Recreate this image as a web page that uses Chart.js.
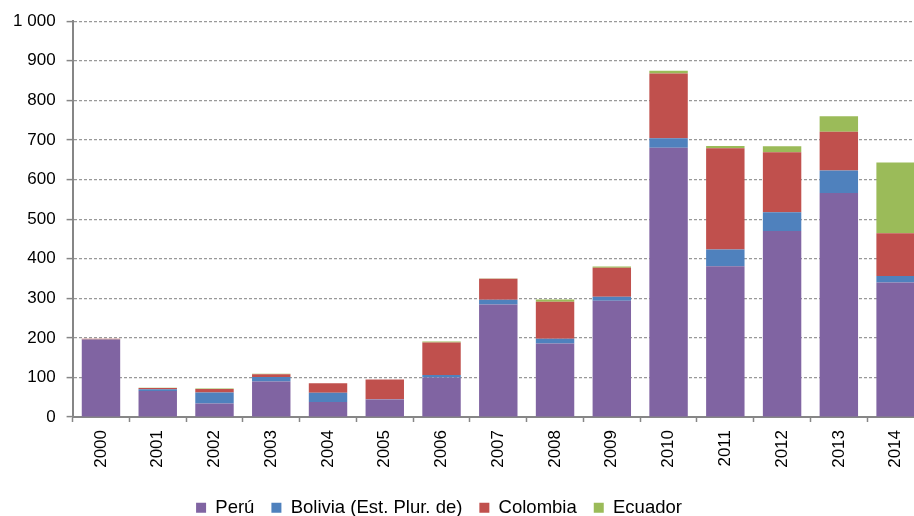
<!DOCTYPE html>
<html>
<head>
<meta charset="utf-8">
<script src="https://cdn.jsdelivr.net/npm/chart.js@4"></script>
<style>
  html, body { margin: 0; padding: 0; overflow: hidden; background: #fff; }
  #wrap { width: 924px; height: 516px; }
</style>
</head>
<body>
<div id="wrap"><canvas id="chart" width="924" height="516"></canvas></div>
<script>
const years = ["2000", "2001", "2002", "2003", "2004", "2005", "2006", "2007",
  "2008", "2009", "2010", "2011", "2012", "2013", "2014"];
const peru = [195, 66, 34, 90, 38, 44, 100, 284, 186, 294, 680, 381, 470, 566, 340];
const bolivia = [1, 4, 28, 11, 23, 1, 6, 12, 12, 10, 24, 42, 47, 57, 16];
const colombia = [2, 3, 9, 7, 24, 50, 82, 53, 93, 73, 164, 256, 152, 98, 108];
const ecuador = [0, 1, 1, 1, 0, 0, 3, 1, 6, 3, 7, 6, 15, 39, 179];

const axisGray = "#868686";
const font = "'Liberation Sans', Arial, sans-serif";

// nudge the legend to where the original sits
const legendShift = {
  id: "legendShift",
  afterLayout(chart) {
    const lg = chart.legend;
    lg.left -= 23;
    lg.right -= 23;
    lg.top += 11;
    lg.bottom += 11;
  }
};

const ctx = document.getElementById("chart").getContext("2d");

const makeSet = (label, data, color) => ({
  label: label,
  data: data,
  backgroundColor: color,
  borderWidth: 0,
  categoryPercentage: 1,
  barPercentage: 0.677,
});

new Chart(ctx, {
  type: "bar",
  data: {
    labels: years,
    datasets: [
      makeSet("Perú", peru, "#8064A2"),
      makeSet("Bolivia (Est. Plur. de)", bolivia, "#4F81BD"),
      makeSet("Colombia", colombia, "#C0504D"),
      makeSet("Ecuador", ecuador, "#9BBB59"),
    ],
  },
  options: {
    responsive: false,
    animation: false,
    layout: { padding: { top: 20.7, left: 0, right: 0, bottom: 0 } },
    plugins: {
      tooltip: { enabled: false },
      legend: {
        position: "bottom",
        labels: {
          boxWidth: 10,
          boxHeight: 10,
          padding: 17,
          color: "#000",
          font: { family: font, size: 18.5 },
        },
      },
    },
    scales: {
      x: {
        stacked: true,
        grid: {
          offset: true,
          drawOnChartArea: false,
          drawTicks: true,
          tickLength: 5,
          tickColor: axisGray,
          tickWidth: 1.5,
        },
        border: { color: axisGray, width: 2 },
        ticks: {
          autoSkip: false,
          maxRotation: 90,
          minRotation: 90,
          padding: 8,
          color: "#000",
          font: { family: font, size: 17 },
        },
        afterFit(scale) {
          scale.height = 99 - scale.chart.legend.height;
        },
      },
      y: {
        stacked: true,
        min: 0,
        max: 1000,
        grid: {
          color: "#999999",
          lineWidth: 1.2,
          tickLength: 6,
          tickColor: axisGray,
          tickWidth: 1.5,
          tickBorderDash: [],
        },
        border: { color: axisGray, width: 2, dash: [3, 2] },
        ticks: {
          stepSize: 100,
          padding: 11,
          color: "#000",
          font: { family: font, size: 17 },
          callback: (v) => String(v).replace(/\B(?=(\d{3})+(?!\d))/g, " "),
        },
        afterFit(scale) {
          scale.width = 72.6;
        },
      },
    },
  },
  plugins: [legendShift],
});
</script>
</body>
</html>
